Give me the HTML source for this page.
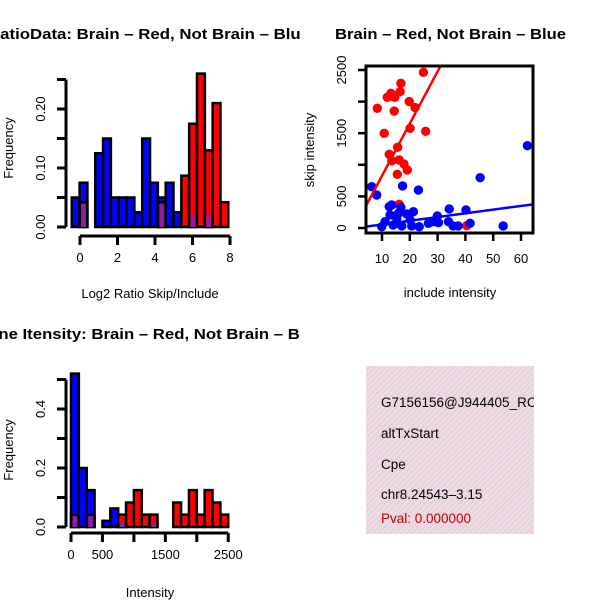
<!DOCTYPE html>
<html><head><meta charset="utf-8"><style>
html,body{margin:0;padding:0;background:#fff}
svg{display:block;font-family:"Liberation Sans",Helvetica,Arial,sans-serif}
</style></head><body>
<svg id="fig" width="600" height="600" viewBox="0 0 600 600">
<defs>
<clipPath id="clipL"><rect x="0" y="0" width="300" height="600"/></clipPath>
<clipPath id="clipSc"><rect x="366" y="66" width="167" height="167"/></clipPath>
<clipPath id="clipTxt"><rect x="366" y="366" width="168" height="168"/></clipPath>
<pattern id="hatch" width="4" height="4" patternUnits="userSpaceOnUse" patternTransform="rotate(45)">
<rect width="4" height="4" fill="#f5d6ef"/><rect width="1.5" height="4" fill="#dcd8c8"/></pattern>
<pattern id="purp" width="3" height="3" patternUnits="userSpaceOnUse" patternTransform="rotate(45)">
<rect width="3" height="3" fill="#8a1a9a"/><rect width="1" height="3" fill="#a020a8"/></pattern>
</defs>
<g id="g1"></g>
<g id="g2"></g>
<g id="g3"></g>
<g>
<rect x="366" y="366" width="168" height="168" fill="url(#hatch)"/>
<g clip-path="url(#clipTxt)" font-size="13.5">
<text x="381" y="407">G7156156@J944405_RC</text>
<text x="381" y="438">altTxStart</text>
<text x="381" y="469">Cpe</text>
<text x="381" y="499">chr8.24543–3.15</text>
<text x="381" y="523" fill="#c00000">Pval: 0.000000</text>
</g></g>
</svg>
<script>
// ---- Ratio histogram data (20 bins) ----
const ratioBinStart = -0.44;
const ratioBinWidth = 0.4175;
const ratioBlue = [0.05,0.075,0,0.125,0.15,0.05,0.05,0.05,0.025,0.15,0.075,0.05,0.075,0.025,0,0.021,0,0.021,0,0];
const ratioRed  = [0,0.042,0,0,0,0,0,0,0,0,0,0.042,0,0,0.087,0.175,0.26,0.13,0.21,0.042];
const ratioXTicks = [0,2,4,6,8];
const ratioYTicks = [0,0.05,0.10,0.15,0.20,0.25];
const ratioYLabels = ["0.00","","0.10","","0.20",""];
// ---- Intensity histogram data (20 bins) ----
const intBinStart = 0;
const intBinWidth = 125;
const intBlue = [0.52,0.2,0.125,0,0.021,0.063,0.021,0,0,0,0.021,0,0,0,0,0,0,0,0,0];
const intRed  = [0.042,0,0.042,0,0,0,0.042,0.083,0.125,0.042,0.042,0,0,0.083,0.042,0.125,0.042,0.125,0.083,0.042];
const intXTicks = [0,500,1000,1500,2000,2500];
const intXLabels = ["0","500","","1500","","2500"];
const intYTicks = [0,0.1,0.2,0.3,0.4,0.5];
const intYLabels = ["0.0","","0.2","","0.4",""];
// ---- Scatter data ----
const redX = [8.3,10.8,11.9,13.2,14.6,14.4,16.8,16.5,19.8,21.9,20.1,24.9,25.7,15.6,12.6,13.5,16.2,17.9,19.1,15.5,16.2,40.5];
const redY = [1894,1498,2068,2131,2068,1851,2289,2157,2000,1906,1577,2463,1530,1277,1166,1065,1076,1013,918,850,375,36];
const blueX = [6.3,8.1,17.4,23.1,45.3,62.3,53.6,34.2,40.2,41.7,12.6,13.5,16.8,21.3,29.9,12.9,11.1,9.9,14,17.1,18.9,20.7,23.4,26.7,28.5,30.3,33.9,35.6,37.4,15.3,20.1,15.9];
const blueY = [654,522,665,601,796,1302,32,301,285,74,337,364,328,258,190,206,100,21,47,32,222,32,21,74,100,84,100,32,32,153,127,233];
const redFit = [0, 82.6];   // intercept, slope
const blueFit = [-3, 5.87];
const scXTicks = [10,20,30,40,50,60];
const scYTicks = [0,500,1000,1500,2000,2500];
const scYLabels = ["0","500","","1500","","2500"];

const NS="http://www.w3.org/2000/svg";
function mk(parent,tag,attrs){const e=document.createElementNS(NS,tag);for(const k in attrs)e.setAttribute(k,attrs[k]);parent.appendChild(e);return e;}
function txt(parent,x,y,s,attrs){const e=mk(parent,'text',Object.assign({x:x,y:y},attrs||{}));e.textContent=s;return e;}

function histogram(g,opt){
  const sx=v=>opt.x0+(v-opt.xmin)*opt.xs, sy=v=>opt.y0-v*opt.ys;
  for(let i=0;i<opt.blue.length;i++){
    const a=opt.start+i*opt.width,b=a+opt.width;
    const x=sx(a),w=sx(b)-sx(a);
    const bv=opt.blue[i], rv=opt.red[i];
    if(bv>0){const r=mk(g,'rect',{x:x,y:sy(bv),width:w,height:sy(0)-sy(bv),fill:'#0000ff',stroke:'#000','stroke-width':2.5});
      
      }
    if(rv>0){const r=mk(g,'rect',{x:x,y:sy(rv),width:w,height:sy(0)-sy(rv),fill:bv>0&&bv>rv?'none':'#ff0000',stroke:'#000','stroke-width':2.5});
      
      }
    const m=Math.min(bv,rv);
    if(m>0){const p=mk(g,'rect',{x:x+1.5,y:sy(m)+1.5,width:w-3,height:sy(0)-sy(m)-1.5,fill:'url(#purp)'});
      
      }
  }
  const yt=opt.yticks;
  const ya=mk(g,'line',{x1:opt.yax,x2:opt.yax,y1:sy(yt[0]),y2:sy(yt[yt.length-1]),stroke:'#000','stroke-width':3});
  
  yt.forEach((v,i)=>{mk(g,'line',{x1:opt.yax-9,x2:opt.yax,y1:sy(v),y2:sy(v),stroke:'#000','stroke-width':3});
    if(opt.ylabels[i]){const t=txt(g,opt.yax-21,sy(v),opt.ylabels[i],{'font-size':13,'text-anchor':'middle',transform:`rotate(-90 ${opt.yax-21} ${sy(v)})`});
      }});
  const xt=opt.xticks;
  const xa=mk(g,'line',{x1:sx(xt[0]),x2:sx(xt[xt.length-1]),y1:opt.xay,y2:opt.xay,stroke:'#000','stroke-width':3});
  
  xt.forEach((v,i)=>{mk(g,'line',{x1:sx(v),x2:sx(v),y1:opt.xay,y2:opt.xay+9,stroke:'#000','stroke-width':3});
    if(opt.xlabels[i]){const t=txt(g,sx(v),opt.xay+26,opt.xlabels[i],{'font-size':13,'text-anchor':'middle'});
    }});
}

const g1=document.getElementById('g1');
histogram(g1,{x0:80,xmin:0,xs:18.75,y0:227,ys:590,start:ratioBinStart,width:ratioBinWidth,blue:ratioBlue,red:ratioRed,
  yax:66,yticks:ratioYTicks,ylabels:ratioYLabels,xay:236,xticks:ratioXTicks,xlabels:ratioXTicks.map(String)});
let t;
t=txt(g1,150,298,'Log2 Ratio Skip/Include',{'font-size':13,'text-anchor':'middle'});

t=txt(g1,13,148,'Frequency',{'font-size':13,'text-anchor':'middle',transform:'rotate(-90 13 148)'});

const c1=mk(g1,'g',{'clip-path':'url(#clipL)'});
t=txt(c1,-12,39,'RatioData: Brain – Red, Not Brain – Blue',{'font-size':15,'font-weight':'bold',textLength:322,lengthAdjust:'spacingAndGlyphs'});


const g3=document.getElementById('g3');
histogram(g3,{x0:71,xmin:0,xs:0.0629,y0:527,ys:295,start:intBinStart,width:intBinWidth,blue:intBlue,red:intRed,
  yax:66,yticks:intYTicks,ylabels:intYLabels,xay:533,xticks:intXTicks,xlabels:intXLabels});
t=txt(g3,150,597,'Intensity',{'font-size':13,'text-anchor':'middle'});

t=txt(g3,13,450,'Frequency',{'font-size':13,'text-anchor':'middle',transform:'rotate(-90 13 450)'});

const c3=mk(g3,'g',{'clip-path':'url(#clipL)'});
t=txt(c3,-24,339,'Gene Itensity: Brain – Red, Not Brain – Blue',{'font-size':15,'font-weight':'bold',textLength:348,lengthAdjust:'spacingAndGlyphs'});


// scatter
const g2=document.getElementById('g2');
const sx=v=>382+(v-10)*2.78, sy=v=>228-v*0.0632;
const cl=mk(g2,'g',{'clip-path':'url(#clipSc)'});
redX.forEach((v,i)=>{const c=mk(cl,'circle',{cx:sx(v),cy:sy(redY[i]),r:4.7,fill:'#ff0000'});
  });
blueX.forEach((v,i)=>{const c=mk(cl,'circle',{cx:sx(v),cy:sy(blueY[i]),r:4.7,fill:'#0000ff'});
  });
let l=mk(cl,'line',{x1:sx(0),y1:sy(redFit[0]),x2:sx(70),y2:sy(redFit[0]+redFit[1]*70),stroke:'#ff0000','stroke-width':2.5});

l=mk(cl,'line',{x1:sx(0),y1:sy(blueFit[0]),x2:sx(70),y2:sy(blueFit[0]+blueFit[1]*70),stroke:'#0000ff','stroke-width':2.5});

const fr=mk(g2,'rect',{x:366,y:66,width:167,height:167,fill:'none',stroke:'#000','stroke-width':3});

scXTicks.forEach(v=>{mk(g2,'line',{x1:sx(v),x2:sx(v),y1:233,y2:241,stroke:'#000','stroke-width':2.5});
  const tt=txt(g2,sx(v),263,String(v),{'font-size':13,'text-anchor':'middle'});
  });
scYTicks.forEach((v,i)=>{mk(g2,'line',{x1:358,x2:366,y1:sy(v),y2:sy(v),stroke:'#000','stroke-width':2.5});
  if(scYLabels[i]){const tt=txt(g2,346,sy(v),scYLabels[i],{'font-size':13,'text-anchor':'middle',transform:`rotate(-90 346 ${sy(v)})`});
  }});
t=txt(g2,450,297,'include intensity',{'font-size':13,'text-anchor':'middle'});

t=txt(g2,314,150,'skip intensity',{'font-size':13,'text-anchor':'middle',transform:'rotate(-90 314 150)'});

t=txt(g2,335,39,'Brain – Red, Not Brain – Blue',{'font-size':15,'font-weight':'bold',textLength:231,lengthAdjust:'spacingAndGlyphs'});

</script>
</body></html>
